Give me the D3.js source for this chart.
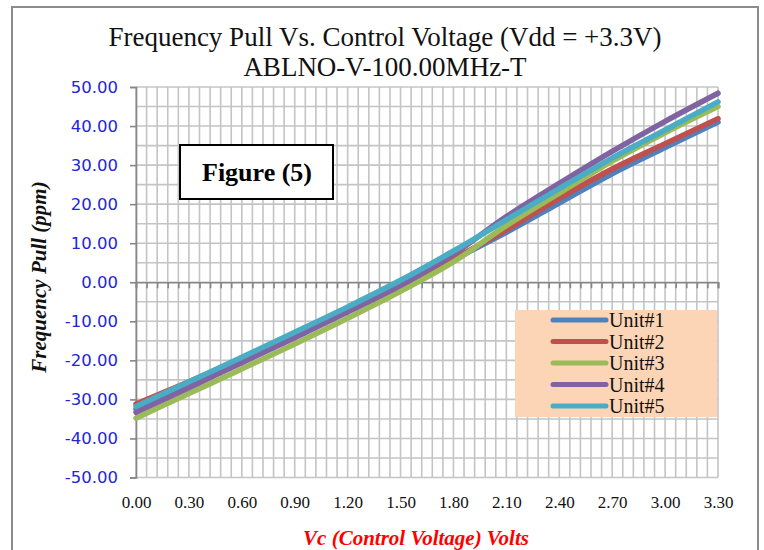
<!DOCTYPE html>
<html>
<head>
<meta charset="utf-8">
<script src="https://cdn.jsdelivr.net/npm/d3@7"></script>
<style>
  html, body { margin: 0; padding: 0; background: #fff; }
  svg { display: block; }
</style>
</head>
<body>
<svg id="chart" width="764" height="550"></svg>
<script>
// ---------- data ----------
const titleLine1 = "Frequency Pull Vs. Control Voltage (Vdd = +3.3V)";
const titleLine2 = "ABLNO-V-100.00MHz-T";
const xTitle = "Vc (Control Voltage) Volts";
const yTitle = "Frequency Pull (ppm)";
const figureLabel = "Figure (5)";

const voltages = [0.00, 0.30, 0.60, 0.90, 1.20, 1.50, 1.80, 2.10, 2.40, 2.70, 3.00, 3.30];
const xTickLabels = ["0.00","0.30","0.60","0.90","1.20","1.50","1.80","2.10","2.40","2.70","3.00","3.30"];
const yTickValues = [-50, -40, -30, -20, -10, 0, 10, 20, 30, 40, 50];

const seriesNames = ["Unit#1", "Unit#2", "Unit#3", "Unit#4", "Unit#5"];
const seriesColors = ["#4f81bd", "#c0504d", "#9bbb59", "#8064a2", "#4bacc6"];
const unit1 = [-32.5, -26.3, -20.0, -13.8, -7.5, -1.0, 5.8, 12.8, 20.3, 27.8, 34.5, 41.0];
const unit2 = [-31.2, -25.5, -19.6, -13.6, -7.3, -0.8, 6.0, 13.4, 21.5, 29.0, 35.5, 41.9];
const unit3 = [-34.8, -28.5, -22.2, -15.8, -9.2, -2.3, 5.2, 14.5, 22.8, 31.0, 38.3, 45.0];
const unit4 = [-33.3, -27.0, -20.6, -14.2, -7.6, -0.8, 7.2, 16.8, 25.3, 33.5, 41.2, 48.4];
const unit5 = [-31.8, -25.5, -19.2, -12.8, -6.3, 0.5, 8.0, 16.0, 24.0, 31.8, 39.0, 46.2];
const allSeries = [unit1, unit2, unit3, unit4, unit5];

// ---------- layout ----------
const svg = d3.select("#chart");
const pL = 136, pR = 718, pT = 87, pB = 477.5;
const serif = "'Liberation Serif','Times New Roman',serif";

const x = d3.scaleLinear().domain([0, 3.3]).range([pL, pR]);
const y = d3.scaleLinear().domain([-50, 50]).range([pB, pT]);

// outer chart frame
svg.append("path")
  .attr("d", "M12,560 L12,7 L758,7 L758,560")
  .attr("fill", "none").attr("stroke", "#8c8c8c").attr("stroke-width", 2);

// titles
svg.append("text").attr("x", 385).attr("y", 46)
  .attr("text-anchor", "middle")
  .style("font-family", serif)
  .style("font-size", "27px").attr("fill", "#111").text(titleLine1);
svg.append("text").attr("x", 385).attr("y", 76)
  .attr("text-anchor", "middle")
  .style("font-family", serif)
  .style("font-size", "27px").attr("fill", "#111").text(titleLine2);

// grid
const minorX = d3.range(0, 56).map(i => +(i * 0.06).toFixed(2));
const minorY = d3.range(-50, 51, 5);
const grid = svg.append("g").attr("stroke", "#c4c4c4").attr("stroke-width", 1.6);
grid.selectAll("line.v").data(minorX).join("line").attr("class", "v")
  .attr("x1", d => x(d)).attr("x2", d => x(d))
  .attr("y1", pT).attr("y2", pB);
grid.selectAll("line.h").data(minorY).join("line").attr("class", "h")
  .attr("x1", pL).attr("x2", pR)
  .attr("y1", d => y(d)).attr("y2", d => y(d));

// y axis
const yAxis = svg.append("g").attr("transform", `translate(${pL},0)`)
  .call(d3.axisLeft(y).tickValues(yTickValues).tickSize(6).tickPadding(12)
    .tickFormat(d => d.toFixed(2)));
yAxis.select(".domain").attr("stroke", "#868686").attr("stroke-width", 1.6);
yAxis.selectAll(".tick line").attr("stroke", "#868686").attr("stroke-width", 1.6);
yAxis.selectAll(".tick text")
  .style("font-family", "'DejaVu Sans',Tahoma,sans-serif")
  .style("font-size", "16.5px").attr("fill", "#2424d8");

// x axis line at y = 0 with tick marks
const xAxis0 = svg.append("g").attr("transform", `translate(0,${y(0)})`)
  .call(d3.axisBottom(x).tickValues(minorX.concat([3.3])).tickSize(6).tickFormat(""));
xAxis0.select(".domain").attr("stroke", "#868686").attr("stroke-width", 1.6);
xAxis0.selectAll(".tick line").attr("stroke", "#868686").attr("stroke-width", 1.6);

// x tick labels at bottom
const xAxisB = svg.append("g").attr("transform", `translate(0,${pB})`)
  .call(d3.axisBottom(x).tickValues(voltages).tickSize(0).tickPadding(18)
    .tickFormat((d, i) => xTickLabels[i]));
xAxisB.select(".domain").remove();
xAxisB.selectAll(".tick text")
  .style("font-family", serif)
  .style("font-size", "17px").attr("fill", "#111");

// series lines
const line = d3.line()
  .x((d, i) => x(voltages[i]))
  .y(d => y(d))
  .curve(d3.curveMonotoneX);
svg.append("g").selectAll("path.series").data(allSeries).join("path")
  .attr("class", "series")
  .attr("d", d => line(d))
  .attr("fill", "none")
  .attr("stroke", (d, i) => seriesColors[i])
  .attr("stroke-width", 5.5)
  .attr("stroke-linecap", "round")
  .attr("stroke-linejoin", "round");

// Figure label box
svg.append("rect").attr("x", 180).attr("y", 145).attr("width", 153).attr("height", 54)
  .attr("fill", "#fff").attr("stroke", "#000").attr("stroke-width", 2);
svg.append("text").attr("x", 257).attr("y", 181).attr("text-anchor", "middle")
  .style("font-family", serif)
  .style("font-size", "26px").style("font-weight", "bold").attr("fill", "#000")
  .text(figureLabel);

// legend
const lg = svg.append("g");
lg.append("rect").attr("x", 515).attr("y", 310).attr("width", 202).attr("height", 107)
  .attr("fill", "#fbd5b5");
const items = lg.selectAll("g.item").data(seriesNames).join("g")
  .attr("class", "item")
  .attr("transform", (d, i) => `translate(0,${320 + i * 21.5})`);
items.append("line").attr("x1", 553).attr("x2", 606).attr("y1", 0).attr("y2", 0)
  .attr("stroke", (d, i) => seriesColors[i]).attr("stroke-width", 5)
  .attr("stroke-linecap", "round");
items.append("text").attr("x", 609).attr("y", 0).attr("dy", "0.35em")
  .style("font-family", serif)
  .style("font-size", "20px").attr("fill", "#111").text(d => d);

// axis titles
svg.append("text").attr("transform", "translate(46,277) rotate(-90)")
  .attr("text-anchor", "middle")
  .style("font-family", serif)
  .style("font-size", "21px").style("font-weight", "bold").style("font-style", "italic")
  .attr("fill", "#111").text(yTitle);
svg.append("text").attr("x", 416).attr("y", 545).attr("text-anchor", "middle")
  .style("font-family", serif)
  .style("font-size", "21px").style("font-weight", "bold").style("font-style", "italic")
  .attr("fill", "#ff0000").text(xTitle);
</script>
</body>
</html>
